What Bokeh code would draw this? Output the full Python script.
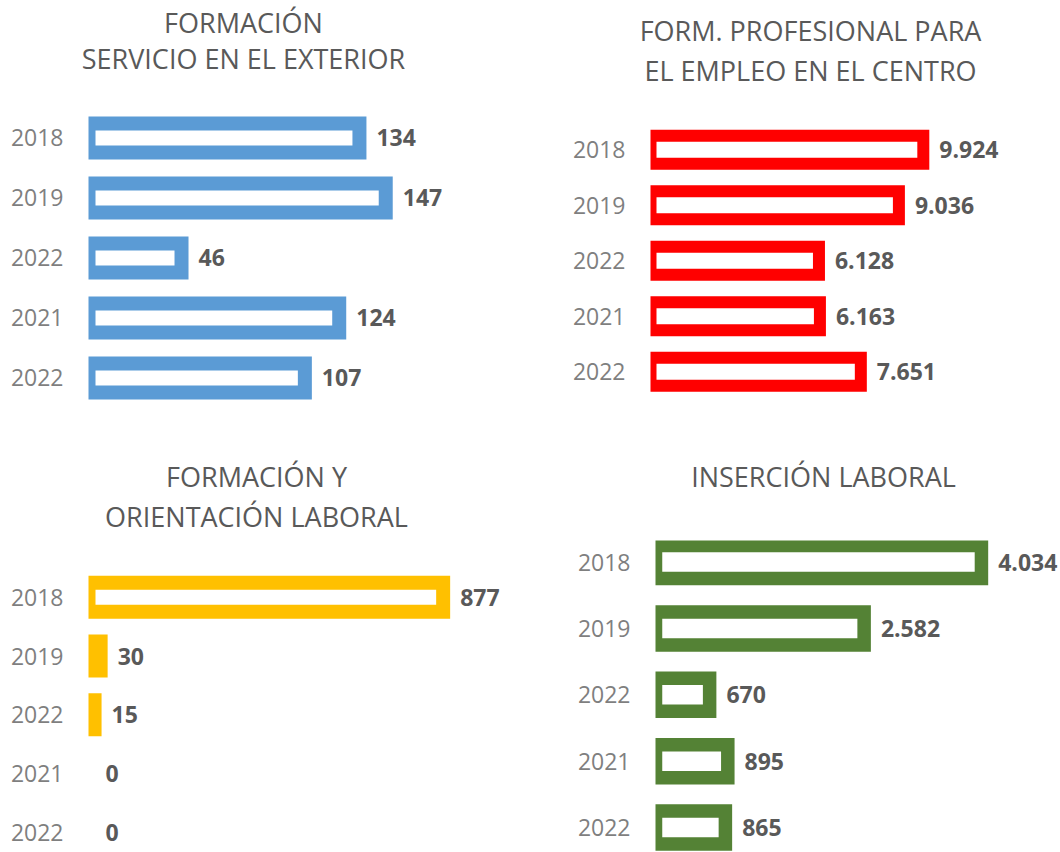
from bokeh.plotting import figure
from bokeh.models import ColumnDataSource, Range1d, FixedTicker
from bokeh.layouts import row, column
from bokeh.embed import file_html
from bokeh.resources import INLINE
from bokeh.core.properties import value

# ---- data ----
years = ["2018", "2019", "2022", "2021", "2022"]
servicio_exterior = [134, 147, 46, 124, 107]
fpe_centro = [9924, 9036, 6128, 6163, 7651]
formacion_orientacion = [877, 30, 15, 0, 0]
insercion_laboral = [4034, 2582, 670, 895, 865]

title_1 = ["FORMACIÓN", "SERVICIO EN EL EXTERIOR"]
title_2 = ["FORM. PROFESIONAL PARA", "EL EMPLEO EN EL CENTRO"]
title_3 = ["FORMACIÓN Y", "ORIENTACIÓN LABORAL"]
title_4 = ["INSERCIÓN LABORAL"]

color_1 = "#5B9BD5"
color_2 = "#FF0000"
color_3 = "#FFC000"
color_4 = "#548235"

FONT = "Open Sans"


def fmt(v):
    return f"{v:,}".replace(",", ".")


def title_fig(lines, w, h, cx, ys):
    t = figure(width=w, height=h, x_range=Range1d(0, w), y_range=Range1d(h, 0),
               x_axis_location=None, y_axis_location=None, title=None,
               toolbar_location=None, output_backend="svg", min_border=0,
               min_border_left=0, min_border_right=0, min_border_top=0,
               min_border_bottom=0, outline_line_color=None)
    t.grid.grid_line_color = None
    t.text(x=[cx] * len(lines), y=ys, text=lines, text_align="center",
           text_baseline="middle", text_font=value(FONT), text_font_size="27px",
           text_color="#595959")
    return t


def bar_fig(vals, color, w, h, axis_px, ppu, c0, spacing, bar_px, stroke):
    frame_w = w - axis_px
    x_end = frame_w / ppu
    y_top = -c0 / spacing
    y_bot = (h - c0) / spacing
    p = figure(width=w, height=h, x_range=Range1d(0, x_end),
               y_range=Range1d(y_bot, y_top), x_axis_location=None,
               title=None, toolbar_location=None, output_backend="svg",
               min_border=0, min_border_left=axis_px, min_border_right=0,
               min_border_top=0, min_border_bottom=0, outline_line_color=None)
    p.grid.grid_line_color = None
    src = ColumnDataSource(dict(
        y=list(range(len(vals))),
        v=vals,
        lbl=[fmt(v) for v in vals],
        la=[1.0 if v > 0 else 0.0 for v in vals],
    ))
    p.hbar(y="y", left=0, right="v", height=bar_px / spacing, source=src,
           fill_color="white", line_color=color, line_width=stroke,
           line_join="miter", line_alpha="la")
    p.text(x="v", y="y", text="lbl", source=src, x_offset=stroke / 2 + 10,
           text_align="left", text_baseline="middle",
           text_font=value(FONT), text_font_style="bold",
           text_font_size="23px", text_color="#595959")
    ax = p.yaxis[0]
    ax.ticker = FixedTicker(ticks=list(range(len(vals))))
    ax.major_label_overrides = {i: y for i, y in enumerate(years)}
    ax.axis_line_color = None
    ax.major_tick_line_color = None
    ax.minor_tick_line_color = None
    ax.major_tick_out = 0
    ax.major_tick_in = 0
    ax.major_label_standoff = 25
    ax.major_label_text_font = FONT
    ax.major_label_text_font_size = "23px"
    ax.major_label_text_color = "#7F7F7F"
    return p


t1 = title_fig(title_1, 560, 92, 243, [22, 58])
b1 = bar_fig(servicio_exterior, color_1, 560, 328, 88, 2.022, 45.4, 60.0, 29, 14)
t2 = title_fig(title_2, 500, 92, 250, [30, 70])
b2 = bar_fig(fpe_centro, color_2, 500, 328, 90, 0.02749, 57.3, 55.5, 28, 12)
t3 = title_fig(title_3, 560, 120, 256, [56, 96])
b3 = bar_fig(formacion_orientacion, color_3, 560, 312, 88, 0.4044, 56.8, 58.7, 29, 14)
t4 = title_fig(title_4, 500, 120, 263, [56])
b4 = bar_fig(insercion_laboral, color_4, 500, 312, 95, 0.0808, 21.5, 66.4, 33, 13.5)

layout = column(row(t1, t2), row(b1, b2), row(t3, t4), row(b3, b4))

open("out.html", "w").write(file_html(layout, INLINE))
